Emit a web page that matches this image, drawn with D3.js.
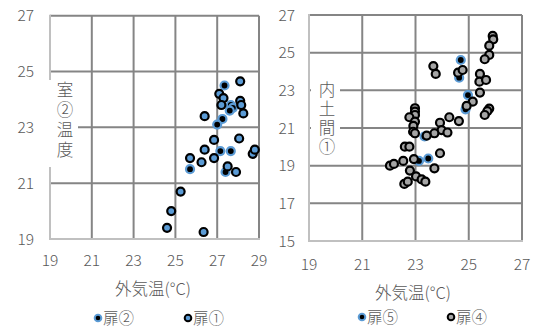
<!DOCTYPE html>
<html>
<head>
<meta charset="utf-8">
<script src="https://cdn.jsdelivr.net/npm/d3@7"></script>
<style>
  html, body { margin: 0; padding: 0; background: #fff; }
  svg { display: block; }
  text { font-family: "Noto Sans CJK JP", "Noto Sans", sans-serif; fill: #595959; font-weight: 300; }
  .vtitle { writing-mode: vertical-rl; text-orientation: upright; }
</style>
</head>
<body>
<svg id="chart" width="537" height="327"></svg>
<script>
// Left panel: 室②温度 vs 外気温
const leftXTicks = [19, 21, 23, 25, 27, 29];
const leftYTicks = [19, 21, 23, 25, 27];
const door2LeftX = [27.35, 27.65, 27.75, 27.6, 27.25, 27.0, 27.15, 27.65, 25.7, 27.4];
const door2LeftY = [24.5, 23.8, 23.7, 23.6, 23.3, 23.1, 22.15, 22.15, 21.5, 21.4];
const door1LeftX = [28.1, 27.1, 27.3, 27.2, 28.1, 28.15, 28.25, 26.4, 26.85, 28.05, 26.4,
                    28.7, 28.8, 25.7, 26.25, 26.85, 27.5, 27.9, 25.25, 24.8, 24.6, 26.35];
const door1LeftY = [24.65, 24.2, 24.05, 23.8, 23.95, 23.8, 23.5, 23.4, 22.55, 22.6, 22.2,
                    22.05, 22.2, 21.9, 21.75, 21.9, 21.6, 21.4, 20.7, 20.0, 19.4, 19.25];

// Right panel: 内土間① vs 外気温
const rightXTicks = [19, 21, 23, 25, 27];
const rightYTicks = [15, 17, 19, 21, 23, 25, 27];
const door5RightX = [24.7, 24.64, 24.97, 24.88, 23.34, 23.48, 23.13];
const door5RightY = [24.61, 23.67, 22.75, 21.99, 20.55, 19.38, 19.25];
const door4RightX = [25.9, 25.92, 25.77, 25.77, 25.6, 23.67, 23.76, 24.6, 24.77, 25.42, 25.4,
                     25.65, 25.42, 25.15, 24.92, 25.77, 25.7, 25.6, 24.27, 24.63, 22.98, 22.98,
                     22.98, 22.77, 22.98, 22.92, 22.91, 22.98, 23.92, 23.98, 24.2, 23.71, 23.42,
                     22.6, 22.77, 23.92, 22.94, 22.54, 22.04, 22.19, 23.71, 22.79, 23.02, 23.23,
                     23.37, 22.58, 22.71];
const door4RightY = [25.89, 25.71, 25.37, 24.88, 24.65, 24.29, 23.87, 23.94, 24.08, 23.87, 23.46,
                     23.55, 22.88, 22.4, 22.17, 22.03, 21.9, 21.69, 21.57, 21.37, 22.05, 21.87,
                     21.69, 21.57, 21.34, 21.11, 20.8, 20.72, 21.28, 20.89, 20.76, 20.72, 20.6,
                     20.01, 20.01, 19.66, 19.35, 19.25, 19.0, 19.09, 18.86, 18.74, 18.43, 18.27,
                     18.15, 18.03, 18.15];

const BLUE = "#5b9bd5", GREY = "#a5a5a5", GRID = "#858585", AXIS = "#c0c0c0";

const svg = d3.select("#chart");

const styles = {
  blueRing: { fill: "#000", stroke: BLUE },
  blueFill: { fill: BLUE, stroke: "#000" },
  greyFill: { fill: GREY, stroke: "#000" }
};

function panel(cfg) {
  const x = d3.scaleLinear().domain(cfg.xDomain).range(cfg.xRange);
  const y = d3.scaleLinear().domain(cfg.yDomain).range(cfg.yRange);
  const g = svg.append("g");
  const [x0, x1] = cfg.xRange, [y0, y1] = cfg.yRange;

  // gridlines
  g.append("g").selectAll("line.v").data(cfg.xTicks.slice(1)).join("line")
    .attr("x1", d => x(d)).attr("x2", d => x(d)).attr("y1", y1).attr("y2", y0)
    .attr("stroke", GRID).attr("stroke-width", 2);
  g.append("g").selectAll("line.h").data(cfg.yTicks.slice(1)).join("line")
    .attr("x1", x0).attr("x2", x1).attr("y1", d => y(d)).attr("y2", d => y(d))
    .attr("stroke", GRID).attr("stroke-width", 2);

  // axes lines
  g.append("line").attr("x1", x0).attr("x2", x0).attr("y1", y1 - 1).attr("y2", y0 + 1)
    .attr("stroke", AXIS).attr("stroke-width", 2);
  g.append("line").attr("x1", x0).attr("x2", x1 + 1).attr("y1", y0).attr("y2", y0)
    .attr("stroke", AXIS).attr("stroke-width", 2);

  // tick labels
  g.append("g").selectAll("text").data(cfg.yTicks).join("text")
    .attr("x", x0 - cfg.yLabelGap).attr("y", d => y(d)).attr("dy", "0.36em")
    .attr("text-anchor", "end").attr("font-size", 15.5).text(d => d);
  g.append("g").selectAll("text").data(cfg.xTicks).join("text")
    .attr("x", d => x(d)).attr("y", cfg.xLabelY).attr("dy", "0.36em")
    .attr("text-anchor", "middle").attr("font-size", 15.5).text(d => d);

  // vertical axis title on a white panel
  const t = cfg.title;
  g.append("rect").attr("x", t.box[0]).attr("y", t.box[1])
    .attr("width", t.box[2]).attr("height", t.box[3]).attr("fill", "#fff");
  g.append("text").attr("class", "vtitle")
    .attr("x", t.x).attr("y", t.y)
    .attr("font-size", 16.5).attr("letter-spacing", t.spacing)
    .text(t.text);

  // x axis title
  g.append("text").attr("x", cfg.xTitle[0]).attr("y", cfg.xTitle[1]).attr("dy", "0.36em")
    .attr("text-anchor", "middle").attr("font-size", 16.5).text("外気温(°C)");

  // series
  cfg.series.forEach(s => {
    const pts = s.xs.map((v, i) => [v, s.ys[i]]);
    g.append("g").selectAll("circle").data(pts).join("circle")
      .attr("cx", d => x(d[0])).attr("cy", d => y(d[1])).attr("r", 4)
      .attr("fill", styles[s.style].fill).attr("stroke", styles[s.style].stroke)
      .attr("stroke-width", 2.2);
  });

  // legend
  const lg = g.append("g");
  cfg.series.forEach((s, i) => {
    const [lx, ly] = cfg.legend[i];
    lg.append("circle").attr("cx", lx).attr("cy", ly).attr("r", 3.3)
      .attr("fill", styles[s.style].fill).attr("stroke", styles[s.style].stroke)
      .attr("stroke-width", 2);
    lg.append("text").attr("x", lx + 5).attr("y", ly).attr("dy", "0.36em")
      .attr("font-size", 15.5).text(s.name);
  });
}

panel({
  xDomain: [19, 29], xRange: [50, 259],
  yDomain: [19, 27], yRange: [239, 15.7],
  xTicks: leftXTicks, yTicks: leftYTicks,
  yLabelGap: 16, xLabelY: 260,
  title: { text: "室②温度", x: 65, y: 81, spacing: 3.5, box: [48, 80, 30, 87] },
  xTitle: [153, 289],
  series: [
    { name: "扉②", xs: door2LeftX, ys: door2LeftY, style: "blueRing" },
    { name: "扉①", xs: door1LeftX, ys: door1LeftY, style: "blueFill" }
  ],
  legend: [[98, 318], [188, 318]]
});

panel({
  xDomain: [19, 27], xRange: [309, 522],
  yDomain: [15, 27], yRange: [241, 15],
  xTicks: rightXTicks, yTicks: rightYTicks,
  yLabelGap: 14, xLabelY: 264,
  title: { text: "内土間①", x: 327, y: 81, spacing: 2.5, box: [311, 80, 29, 80] },
  xTitle: [413, 293],
  series: [
    { name: "扉⑤", xs: door5RightX, ys: door5RightY, style: "blueRing" },
    { name: "扉④", xs: door4RightX, ys: door4RightY, style: "greyFill" }
  ],
  legend: [[362, 317], [451, 317]]
});
</script>
</body>
</html>
